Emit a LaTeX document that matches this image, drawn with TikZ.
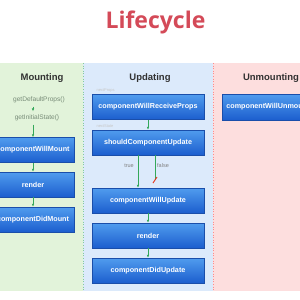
\documentclass[tikz,border=0pt]{standalone}
\usepackage{fontspec}
\setmainfont{Liberation Sans}
\setsansfont{Liberation Sans}
\newfontfamily\titlefont{Open Sans}
\usetikzlibrary{arrows.meta}
\definecolor{titlered}{RGB}{212,74,88}
\definecolor{pgreen}{RGB}{226,243,218}
\definecolor{pblue}{RGB}{220,234,251}
\definecolor{pred}{RGB}{253,222,222}
\definecolor{boxtop}{RGB}{80,156,238}
\definecolor{boxbot}{RGB}{28,94,206}
\definecolor{boxedge}{RGB}{26,78,170}
\definecolor{agreen}{RGB}{52,168,90}
\definecolor{headgray}{RGB}{50,50,50}
\definecolor{smallgray}{RGB}{120,140,120}
\tikzset{
  ubox/.style={draw=boxedge, line width=0.5pt, top color=boxtop, bottom color=boxbot,
    text=white, font=\sffamily\bfseries\fontsize{7.2}{8}\selectfont,
    minimum height=25pt, inner sep=0pt},
  heading/.style={font=\sffamily\bfseries\fontsize{9.5}{11}\selectfont, text=headgray},
  small/.style={font=\sffamily\fontsize{6.6}{8}\selectfont, text=smallgray},
  faint/.style={font=\sffamily\fontsize{4}{5}\selectfont, text=black!22, anchor=west},
  tiny/.style={font=\sffamily\fontsize{5.5}{6}\selectfont, text=black!50},
  garrow/.style={draw=agreen, line width=0.8pt, -{Latex[length=3pt,width=2.6pt]}},
  gline/.style={draw=agreen, line width=0.8pt}
}
\begin{document}
\begin{tikzpicture}[x=1pt,y=-1pt]
\useasboundingbox (0,0) rectangle (300,300);
\clip (0,0) rectangle (300,300);
\fill[white] (0,0) rectangle (300,300);
% panels
\fill[pgreen] (0,63) rectangle (83,291);
\fill[pblue] (83,63) rectangle (213,291);
\fill[pred] (213,63) rectangle (300,291);
\draw[agreen!60, dotted, line width=0.6pt] (83,63) -- (83,291);
\draw[red!45, dotted, line width=0.6pt] (213,63) -- (213,291);
% title
\node[font=\titlefont\bfseries\fontsize{23}{26}\selectfont, text=titlered] (title) at (155.5,22) {Lifecycle};
% headings
\node[heading] (hmount) at (42,78) {Mounting};
\node[heading] (hupdate) at (150,78) {Updating};
\node[heading] (hunmount) at (271,78) {Unmounting};
% mounting
\node[small] (gdp) at (39,100) {getDefaultProps()};
\node[small] (gis) at (37,118) {getInitialState()};
\node[ubox, minimum width=82pt] (cwm) at (33,150) {componentWillMount};
\node[ubox, minimum width=82pt] (rend1) at (33,184.5) {render};
\node[ubox, minimum width=82pt] (cdm) at (33,219.5) {componentDidMount};
\draw[garrow] (gdp.south -| cwm.center) -- (gis.north -| cwm.center);
\draw[garrow] (gis.south -| cwm.center) -- (cwm.north);
\draw[garrow] (cwm.south) -- (rend1.north);
\draw[garrow] (rend1.south) -- (cdm.north);
% updating
\node[faint] (np) at (93,91) {nextProps};
\node[faint] (ns) at (93,126) {nextState};
\node[ubox, minimum width=112pt] (cwrp) at (148,107) {componentWillReceiveProps};
\node[ubox, minimum width=112pt] (scu) at (148,142.5) {shouldComponentUpdate};
\node[ubox, minimum width=112pt] (cwu) at (148,200.5) {componentWillUpdate};
\node[ubox, minimum width=112pt] (rend2) at (148,235.5) {render};
\node[ubox, minimum width=112pt] (cdu) at (148,270.5) {componentDidUpdate};
\draw[garrow] (cwrp.south) -- (scu.north);
\draw[garrow] ([xshift=-10pt]scu.south) -- ([xshift=-10pt]cwu.north);
\coordinate (fend) at (155,180);
\draw[gline] ([xshift=7pt]scu.south) -- (fend);
\draw[red!60!brown, line width=0.9pt] ([xshift=-2pt,yshift=-3pt]fend) -- ([xshift=2pt,yshift=3pt]fend);
\node[tiny] (ltrue) at (129,166) {true};
\node[tiny] (lfalse) at (163,166) {false};
\draw[garrow] (cwu.south) -- (rend2.north);
\draw[garrow] (rend2.south) -- (cdu.north);
% unmounting
\node[ubox, minimum width=92pt, minimum height=26pt] (cwun) at (268,107) {componentWillUnmount};
\end{tikzpicture}
\end{document}
